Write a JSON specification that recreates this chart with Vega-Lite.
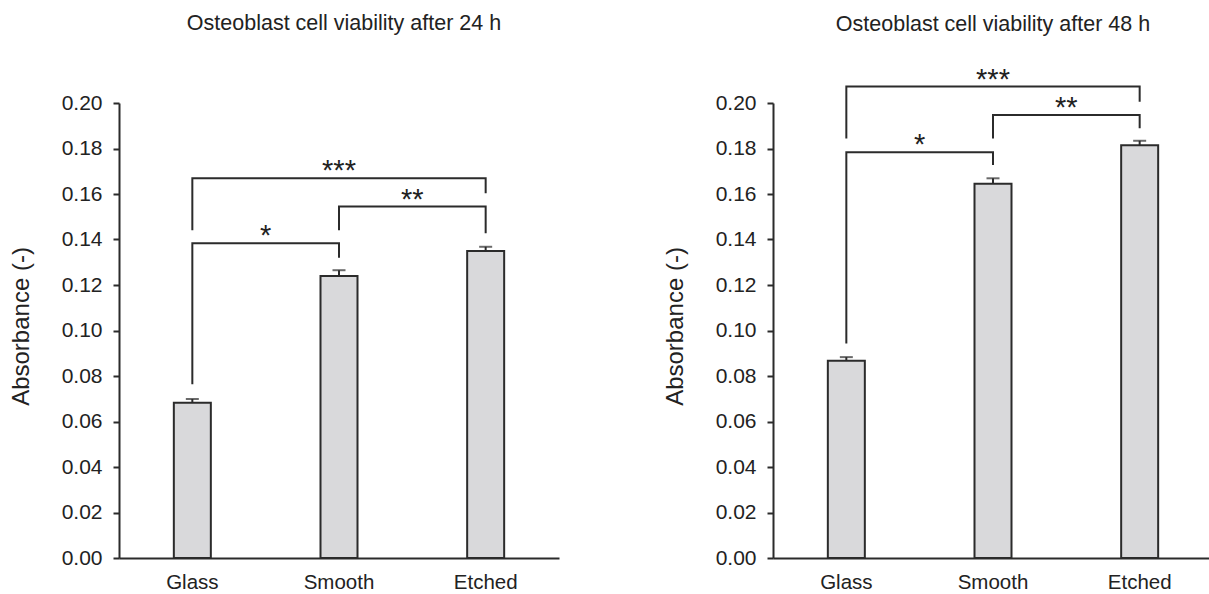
{
  "$schema": "https://vega.github.io/schema/vega-lite/v6.json",
  "padding": {"left": 9, "top": 12, "right": 0, "bottom": 0},
  "background": "white",
  "bounds": "flush",
  "spacing": 214,
  "config": {
    "font": "Liberation Sans",
    "view": {"stroke": null},
    "axis": {
      "domainColor": "#2b2b2b",
      "domainWidth": 2,
      "tickColor": "#2b2b2b",
      "tickWidth": 2,
      "labelColor": "#222222",
      "titleColor": "#222222",
      "labelFont": "Liberation Sans",
      "titleFont": "Liberation Sans",
      "grid": false
    },
    "title": {"font": "Liberation Sans", "fontSize": 21.5, "fontWeight": "normal", "color": "#222222", "anchor": "middle", "frame": "group"}
  },
  "datasets": {
    "bars": [
      {"panel": "24 h", "surface": "Glass", "mean": 0.0682, "upper": 0.0699},
      {"panel": "24 h", "surface": "Smooth", "mean": 0.1240, "upper": 0.1265},
      {"panel": "24 h", "surface": "Etched", "mean": 0.1349, "upper": 0.1368},
      {"panel": "48 h", "surface": "Glass", "mean": 0.0867, "upper": 0.0883},
      {"panel": "48 h", "surface": "Smooth", "mean": 0.1645, "upper": 0.1669},
      {"panel": "48 h", "surface": "Etched", "mean": 0.1814, "upper": 0.1834}
    ],
    "brackets": [
      {"panel": "24 h", "bracket": "a", "seq": 1, "surface": "Glass", "y": 0.0764},
      {"panel": "24 h", "bracket": "a", "seq": 2, "surface": "Glass", "y": 0.1383},
      {"panel": "24 h", "bracket": "a", "seq": 3, "surface": "Smooth", "y": 0.1383},
      {"panel": "24 h", "bracket": "a", "seq": 4, "surface": "Smooth", "y": 0.1320},
      {"panel": "24 h", "bracket": "b", "seq": 1, "surface": "Smooth", "y": 0.1441},
      {"panel": "24 h", "bracket": "b", "seq": 2, "surface": "Smooth", "y": 0.1545},
      {"panel": "24 h", "bracket": "b", "seq": 3, "surface": "Etched", "y": 0.1545},
      {"panel": "24 h", "bracket": "b", "seq": 4, "surface": "Etched", "y": 0.1428},
      {"panel": "24 h", "bracket": "c", "seq": 1, "surface": "Glass", "y": 0.1441},
      {"panel": "24 h", "bracket": "c", "seq": 2, "surface": "Glass", "y": 0.1669},
      {"panel": "24 h", "bracket": "c", "seq": 3, "surface": "Etched", "y": 0.1669},
      {"panel": "24 h", "bracket": "c", "seq": 4, "surface": "Etched", "y": 0.1603},
      {"panel": "48 h", "bracket": "a", "seq": 1, "surface": "Glass", "y": 0.0943},
      {"panel": "48 h", "bracket": "a", "seq": 2, "surface": "Glass", "y": 0.1784},
      {"panel": "48 h", "bracket": "a", "seq": 3, "surface": "Smooth", "y": 0.1784},
      {"panel": "48 h", "bracket": "a", "seq": 4, "surface": "Smooth", "y": 0.1727},
      {"panel": "48 h", "bracket": "b", "seq": 1, "surface": "Smooth", "y": 0.1844},
      {"panel": "48 h", "bracket": "b", "seq": 2, "surface": "Smooth", "y": 0.1947},
      {"panel": "48 h", "bracket": "b", "seq": 3, "surface": "Etched", "y": 0.1947},
      {"panel": "48 h", "bracket": "b", "seq": 4, "surface": "Etched", "y": 0.1889},
      {"panel": "48 h", "bracket": "c", "seq": 1, "surface": "Glass", "y": 0.1844},
      {"panel": "48 h", "bracket": "c", "seq": 2, "surface": "Glass", "y": 0.2072},
      {"panel": "48 h", "bracket": "c", "seq": 3, "surface": "Etched", "y": 0.2072},
      {"panel": "48 h", "bracket": "c", "seq": 4, "surface": "Etched", "y": 0.2006}
    ],
    "stars": [
      {"panel": "24 h", "label": "*", "kind": "mid", "surface": "Glass", "y": 0.1383},
      {"panel": "24 h", "label": "**", "kind": "mid", "surface": "Smooth", "y": 0.1545},
      {"panel": "24 h", "label": "***", "kind": "center", "surface": "Smooth", "y": 0.1669},
      {"panel": "48 h", "label": "*", "kind": "mid", "surface": "Glass", "y": 0.1784},
      {"panel": "48 h", "label": "**", "kind": "mid", "surface": "Smooth", "y": 0.1947},
      {"panel": "48 h", "label": "***", "kind": "center", "surface": "Smooth", "y": 0.2072}
    ]
  },
  "hconcat": [
    {
      "title": {"text": "Osteoblast cell viability after 24 h", "dx": 5, "offset": 58},
      "width": 440,
      "height": 455,
      "layer": [
        {
          "data": {"name": "bars"},
          "transform": [{"filter": "datum.panel === '24 h'"}],
          "mark": {"type": "bar", "size": 37, "fill": "#d9d9db", "stroke": "#2b2b2b", "strokeWidth": 2},
          "encoding": {
            "x": {"field": "surface", "type": "nominal", "sort": ["Glass", "Smooth", "Etched"],
                  "scale": {"domain": ["Glass", "Smooth", "Etched"], "paddingInner": 0, "paddingOuter": 0},
                  "axis": {"title": null, "ticks": false, "tickSize": 0, "labelPadding": 14, "labelFontSize": 20.5, "labelAngle": 0}},
            "y": {"field": "mean", "type": "quantitative", "scale": {"domain": [0, 0.2], "nice": false},
                  "axis": {"values": [0, 0.02, 0.04, 0.06, 0.08, 0.1, 0.12, 0.14, 0.16, 0.18, 0.2], "format": ".2f",
                           "tickSize": 6, "labelPadding": 11, "labelFontSize": 21,
                           "title": "Absorbance (-)", "titleFontSize": 24, "titleFontWeight": "normal",
                           "titleX": -90.6, "titleY": 223, "titleAngle": -90, "titleBaseline": "alphabetic", "titleAlign": "center"}}
          }
        },
        {
          "data": {"name": "bars"},
          "transform": [{"filter": "datum.panel === '24 h'"}],
          "mark": {"type": "rule", "color": "#2b2b2b", "strokeWidth": 2},
          "encoding": {
            "x": {"field": "surface", "type": "nominal"},
            "y": {"field": "mean", "type": "quantitative"},
            "y2": {"field": "upper"}
          }
        },
        {
          "data": {"name": "bars"},
          "transform": [{"filter": "datum.panel === '24 h'"}],
          "mark": {"type": "tick", "color": "#2b2b2b", "size": 13, "thickness": 2},
          "encoding": {
            "x": {"field": "surface", "type": "nominal"},
            "y": {"field": "upper", "type": "quantitative"}
          }
        },
        {
          "data": {"name": "brackets"},
          "transform": [{"filter": "datum.panel === '24 h'"}],
          "mark": {"type": "line", "color": "#2b2b2b", "strokeWidth": 2},
          "encoding": {
            "x": {"field": "surface", "type": "nominal"},
            "y": {"field": "y", "type": "quantitative"},
            "detail": {"field": "bracket"},
            "order": {"field": "seq", "type": "quantitative"}
          }
        },
        {
          "data": {"name": "stars"},
          "transform": [{"filter": "datum.panel === '24 h' && datum.kind === 'mid'"}],
          "mark": {"type": "text", "fontSize": 29, "baseline": "alphabetic", "dy": 2, "color": "#222222"},
          "encoding": {
            "x": {"field": "surface", "type": "nominal", "bandPosition": 1},
            "y": {"field": "y", "type": "quantitative"},
            "text": {"field": "label"}
          }
        },
        {
          "data": {"name": "stars"},
          "transform": [{"filter": "datum.panel === '24 h' && datum.kind === 'center'"}],
          "mark": {"type": "text", "fontSize": 29, "baseline": "alphabetic", "dy": 2, "color": "#222222"},
          "encoding": {
            "x": {"field": "surface", "type": "nominal"},
            "y": {"field": "y", "type": "quantitative"},
            "text": {"field": "label"}
          }
        }
      ]
    },
    {
      "title": {"text": "Osteoblast cell viability after 48 h", "dx": 0, "offset": 30},
      "width": 440,
      "height": 455,
      "layer": [
        {
          "data": {"name": "bars"},
          "transform": [{"filter": "datum.panel === '48 h'"}],
          "mark": {"type": "bar", "size": 37, "fill": "#d9d9db", "stroke": "#2b2b2b", "strokeWidth": 2},
          "encoding": {
            "x": {"field": "surface", "type": "nominal", "sort": ["Glass", "Smooth", "Etched"],
                  "scale": {"domain": ["Glass", "Smooth", "Etched"], "paddingInner": 0, "paddingOuter": 0},
                  "axis": {"title": null, "ticks": false, "tickSize": 0, "labelPadding": 14, "labelFontSize": 20.5, "labelAngle": 0}},
            "y": {"field": "mean", "type": "quantitative", "scale": {"domain": [0, 0.2], "nice": false},
                  "axis": {"values": [0, 0.02, 0.04, 0.06, 0.08, 0.1, 0.12, 0.14, 0.16, 0.18, 0.2], "format": ".2f",
                           "tickSize": 6, "labelPadding": 11, "labelFontSize": 21,
                           "title": "Absorbance (-)", "titleFontSize": 24, "titleFontWeight": "normal",
                           "titleX": -90.6, "titleY": 223, "titleAngle": -90, "titleBaseline": "alphabetic", "titleAlign": "center"}}
          }
        },
        {
          "data": {"name": "bars"},
          "transform": [{"filter": "datum.panel === '48 h'"}],
          "mark": {"type": "rule", "color": "#2b2b2b", "strokeWidth": 2},
          "encoding": {
            "x": {"field": "surface", "type": "nominal"},
            "y": {"field": "mean", "type": "quantitative"},
            "y2": {"field": "upper"}
          }
        },
        {
          "data": {"name": "bars"},
          "transform": [{"filter": "datum.panel === '48 h'"}],
          "mark": {"type": "tick", "color": "#2b2b2b", "size": 13, "thickness": 2},
          "encoding": {
            "x": {"field": "surface", "type": "nominal"},
            "y": {"field": "upper", "type": "quantitative"}
          }
        },
        {
          "data": {"name": "brackets"},
          "transform": [{"filter": "datum.panel === '48 h'"}],
          "mark": {"type": "line", "color": "#2b2b2b", "strokeWidth": 2},
          "encoding": {
            "x": {"field": "surface", "type": "nominal"},
            "y": {"field": "y", "type": "quantitative"},
            "detail": {"field": "bracket"},
            "order": {"field": "seq", "type": "quantitative"}
          }
        },
        {
          "data": {"name": "stars"},
          "transform": [{"filter": "datum.panel === '48 h' && datum.kind === 'mid'"}],
          "mark": {"type": "text", "fontSize": 29, "baseline": "alphabetic", "dy": 2, "color": "#222222"},
          "encoding": {
            "x": {"field": "surface", "type": "nominal", "bandPosition": 1},
            "y": {"field": "y", "type": "quantitative"},
            "text": {"field": "label"}
          }
        },
        {
          "data": {"name": "stars"},
          "transform": [{"filter": "datum.panel === '48 h' && datum.kind === 'center'"}],
          "mark": {"type": "text", "fontSize": 29, "baseline": "alphabetic", "dy": 2, "color": "#222222"},
          "encoding": {
            "x": {"field": "surface", "type": "nominal"},
            "y": {"field": "y", "type": "quantitative"},
            "text": {"field": "label"}
          }
        }
      ]
    }
  ]
}
